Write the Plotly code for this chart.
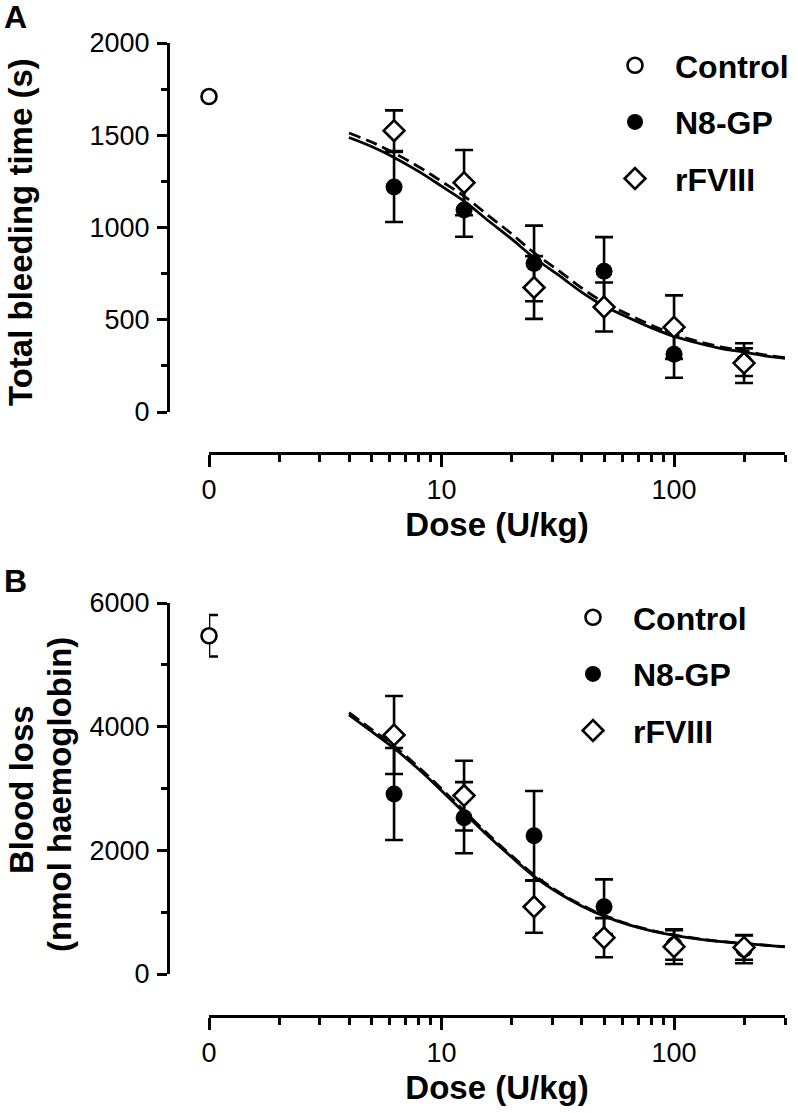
import numpy as np
import plotly.graph_objects as go

W, H = 798, 1113
FONT = "Liberation Sans, Arial, Helvetica, sans-serif"

# ---------------- data ----------------
doses = [6.25, 12.5, 25, 50, 100, 200]
control_dose = [1]          # control group drawn at the axis origin, labelled "0"

# Panel A: total bleeding time (s)
a_control = [1710]
a_n8 = [1220, 1095, 805, 763, 313, 270]
a_n8_err = [190, 145, 205, 185, 127, 75]
a_rf = [1525, 1243, 675, 569, 460, 265]
a_rf_err = [110, 177, 170, 133, 172, 108]

# Panel B: blood loss (nmol haemoglobin)
b_control = [5470]
b_control_err = [335]
b_n8 = [2911, 2528, 2237, 1088, 470, 400]
b_n8_err = [745, 575, 722, 443, 240, 225]
b_rf = [3865, 2885, 1088, 587, 442, 430]
b_rf_err = [630, 565, 420, 317, 280, 200]

# fitted dose-response curves
curve_doses = [4, 5, 6.25, 8, 10, 12.5, 16, 20, 25, 32, 40, 50, 64, 80, 100, 130, 160, 200, 250, 300]
a_n8_curve = [1488, 1439, 1380, 1303, 1224, 1143, 1034, 938, 836, 740, 650, 574, 510, 456, 410, 370, 344, 325, 303, 291]
a_rf_curve = [1512, 1463, 1404, 1328, 1250, 1170, 1062, 966, 863, 765, 673, 594, 527, 470, 421, 379, 352, 332, 308, 295]
b_n8_curve = [4190, 3923, 3651, 3307, 2965, 2610, 2221, 1891, 1580, 1305, 1100, 936, 795, 698, 625, 560, 522, 492, 462, 440]
b_rf_curve = [4225, 3958, 3685, 3338, 2995, 2638, 2248, 1915, 1602, 1323, 1115, 948, 805, 706, 631, 565, 526, 495, 465, 443]

x_tickvals = [1, 10, 100]
x_ticktext = ["0", "10", "100"]
x_minor = [2, 3, 4, 5, 6, 7, 8, 9, 20, 30, 40, 50, 60, 70, 80, 90, 200, 300]

# ---------------- figure ----------------
fig = go.Figure()


def err(arr):
    return dict(type="data", array=arr, visible=True, color="black", thickness=2.6, width=9)


def add_panel(xa, ya, leg, tag, control, control_err, n8, n8_err, rf, rf_err, n8_curve, rf_curve):
    fig.add_trace(go.Scatter(x=curve_doses, y=n8_curve, mode="lines", xaxis=xa, yaxis=ya,
                             line=dict(color="black", width=2.8, shape="spline"),
                             showlegend=False, hoverinfo="skip"))
    fig.add_trace(go.Scatter(x=curve_doses, y=rf_curve, mode="lines", xaxis=xa, yaxis=ya,
                             line=dict(color="black", width=2.8, dash="12px,6px", shape="spline"),
                             showlegend=False, hoverinfo="skip"))
    ctrl = dict(x=control_dose, y=control, mode="markers", name="Control", xaxis=xa, yaxis=ya,
                legend=leg, legendgroup=tag + "c", cliponaxis=False,
                marker=dict(symbol="circle", size=15, color="white", line=dict(color="black", width=2.6)))
    if control_err is not None:
        ctrl["error_y"] = err(control_err)
    fig.add_trace(go.Scatter(**ctrl))
    fig.add_trace(go.Scatter(x=doses, y=n8, mode="markers", name="N8-GP", xaxis=xa, yaxis=ya,
                             legend=leg, legendgroup=tag + "n", cliponaxis=False,
                             error_y=err(n8_err),
                             marker=dict(symbol="circle", size=17, color="black", line=dict(color="black", width=0))))
    fig.add_trace(go.Scatter(x=doses, y=rf, mode="markers", name="rFVIII", xaxis=xa, yaxis=ya,
                             legend=leg, legendgroup=tag + "r", cliponaxis=False,
                             error_y=err(rf_err),
                             marker=dict(symbol="diamond", size=16, color="white", line=dict(color="black", width=2.6))))


add_panel("x", "y", "legend", "a", a_control, None, a_n8, a_n8_err, a_rf, a_rf_err, a_n8_curve, a_rf_curve)
add_panel("x2", "y2", "legend2", "b", b_control, b_control_err, b_n8, b_n8_err, b_rf, b_rf_err, b_n8_curve, b_rf_curve)

tickfont = dict(family=FONT, size=27, color="black")
titlefont = dict(family=FONT, size=33, color="black", weight="bold")


def xaxis_def(pos_px):
    return dict(type="log", range=[0, np.log10(300)], domain=[209 / W, 785 / W],
                anchor="free", position=1 - pos_px / H,
                showline=True, linecolor="black", linewidth=3, showgrid=False, zeroline=False,
                tickmode="array", tickvals=x_tickvals, ticktext=x_ticktext,
                ticks="outside", ticklen=12, tickwidth=3, tickcolor="black", tickfont=tickfont,
                minor=dict(tickmode="array", tickvals=x_minor, ticks="outside", ticklen=7,
                           tickwidth=2.5, tickcolor="black", showgrid=False),
                title=dict(text="Dose (U/kg)", font=titlefont, standoff=8),
                automargin=False)


def yaxis_def(rng, major, minor, top_px, bot_px):
    return dict(range=rng, domain=[1 - bot_px / H, 1 - top_px / H],
                anchor="free", position=168 / W,
                showline=True, linecolor="black", linewidth=3, showgrid=False, zeroline=False,
                tickmode="linear", tick0=0, dtick=major,
                ticks="outside", ticklen=10, tickwidth=3, tickcolor="black", tickfont=tickfont,
                ticklabelstandoff=2,
                minor=dict(tickmode="linear", tick0=0, dtick=minor, ticks="outside", ticklen=6,
                           tickwidth=2.5, tickcolor="black", showgrid=False),
                automargin=False)


legend_common = dict(xanchor="left", yanchor="top", bgcolor="rgba(0,0,0,0)", borderwidth=0,
                     font=dict(family=FONT, size=32, color="black", weight="bold"),
                     itemwidth=70, tracegroupgap=12)

fig.update_layout(
    width=W, height=H,
    margin=dict(l=0, r=0, t=0, b=0),
    paper_bgcolor="white", plot_bgcolor="white",
    showlegend=True,
    xaxis=xaxis_def(453),
    yaxis=yaxis_def([0, 2000], 500, 250, 43, 412),
    xaxis2=xaxis_def(1016),
    yaxis2=yaxis_def([0, 6000], 2000, 1000, 603, 974),
    legend=dict(x=595 / W, y=1 - 38 / H, **legend_common),
    legend2=dict(x=553 / W, y=1 - 590 / H, **legend_common),
    annotations=[
        dict(text="A", x=2 / W, y=1 - 17 / H, xref="paper", yref="paper", xanchor="left", yanchor="middle",
             showarrow=False, font=dict(family=FONT, size=32, color="black", weight="bold")),
        dict(text="B", x=2 / W, y=1 - 581 / H, xref="paper", yref="paper", xanchor="left", yanchor="middle",
             showarrow=False, font=dict(family=FONT, size=32, color="black", weight="bold")),
        dict(text="Total bleeding time (s)", textangle=-90, x=21 / W, y=1 - 232 / H,
             xref="paper", yref="paper", xanchor="center", yanchor="middle",
             showarrow=False, font=titlefont),
        dict(text="Blood loss", textangle=-90, x=21 / W, y=1 - 790 / H,
             xref="paper", yref="paper", xanchor="center", yanchor="middle",
             showarrow=False, font=titlefont),
        dict(text="(nmol haemoglobin)", textangle=-90, x=59 / W, y=1 - 795 / H,
             xref="paper", yref="paper", xanchor="center", yanchor="middle",
             showarrow=False, font=titlefont),
    ],
)

fig.write_html("out.html", config={"displayModeBar": False},
               post_script="document.body.style.margin='0px';")
